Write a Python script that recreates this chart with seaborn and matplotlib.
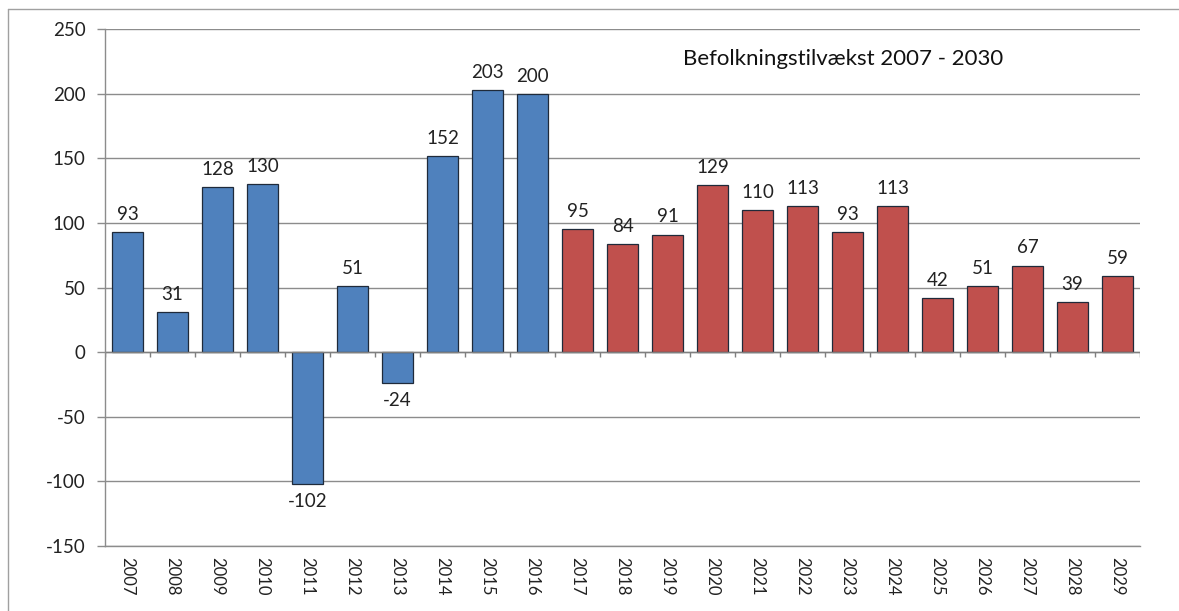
import matplotlib
matplotlib.use("Agg")
import matplotlib.pyplot as plt
import seaborn as sns
import numpy as np
import pandas as pd
from matplotlib.lines import Line2D

years = [str(y) for y in range(2007, 2030)]
values = [93, 31, 128, 130, -102, 51, -24, 152, 203, 200,
          95, 84, 91, 129, 110, 113, 93, 113, 42, 51, 67, 39, 59]
period = ["Historisk"] * 10 + ["Prognose"] * 13
title = "Befolkningstilvækst 2007 - 2030"
yticks = [-150, -100, -50, 0, 50, 100, 150, 200, 250]

df = pd.DataFrame({"year": years, "value": values, "period": period})

sns.set_theme(style="white")
plt.rcParams["font.family"] = ["Lato", "DejaVu Sans"]

fig = plt.figure(figsize=(11.79, 6.11), dpi=100)
ax = fig.add_axes([0.089, 0.1064, 0.878, 0.8461])

sns.barplot(data=df, x="year", y="value", hue="period", dodge=False,
            palette={"Historisk": "#4F81BD", "Prognose": "#C0504D"},
            saturation=1, edgecolor="#1f2a3a", linewidth=0.9, width=0.69,
            ax=ax, legend=False)

ax.set_ylim(-150, 250)
ax.set_xlim(-0.5, len(years) - 0.5)
ax.set_yticks(yticks)
ax.set_yticklabels([str(t) for t in yticks], fontsize=13.5, color="#222222")
ax.yaxis.grid(True, color="#8c8c8c", linewidth=1.0)
ax.set_axisbelow(True)
ax.set_xlabel("")
ax.set_ylabel("")
ax.tick_params(axis="x", length=0, pad=8, labelsize=12, labelcolor="#222222")
ax.tick_params(axis="y", left=True, length=6, width=1, color="#8c8c8c", pad=8)
for lbl in ax.get_xticklabels():
    lbl.set_rotation(-90)

for s in ["top", "right"]:
    ax.spines[s].set_visible(False)
ax.spines["left"].set_color("#8c8c8c")
ax.spines["bottom"].set_color("#8c8c8c")
ax.spines["left"].set_linewidth(1.0)
ax.spines["bottom"].set_linewidth(1.0)

ax.axhline(0, color="#7f7f7f", linewidth=1.0, zorder=1)
ax.vlines(np.arange(-0.5, len(years)), -4, 0, color="#7f7f7f", linewidth=1.0)

for i, v in enumerate(values):
    if v >= 0:
        ax.text(i, v + 7, str(v), ha="center", va="bottom", fontsize=13.5, color="#222222")
    else:
        ax.text(i, v - 7, str(v), ha="center", va="top", fontsize=13.5, color="#222222")

fig.text(0.715, 0.903, title, ha="center", va="center", fontsize=16, color="#111111")

fig.add_artist(Line2D([0.0068, 0.0068], [0.0, 0.985], transform=fig.transFigure, color="#a0a0a0", linewidth=1.0))
fig.add_artist(Line2D([0.0068, 1.0], [0.985, 0.985], transform=fig.transFigure, color="#a0a0a0", linewidth=1.0))

fig.savefig("out.png", dpi=100)
